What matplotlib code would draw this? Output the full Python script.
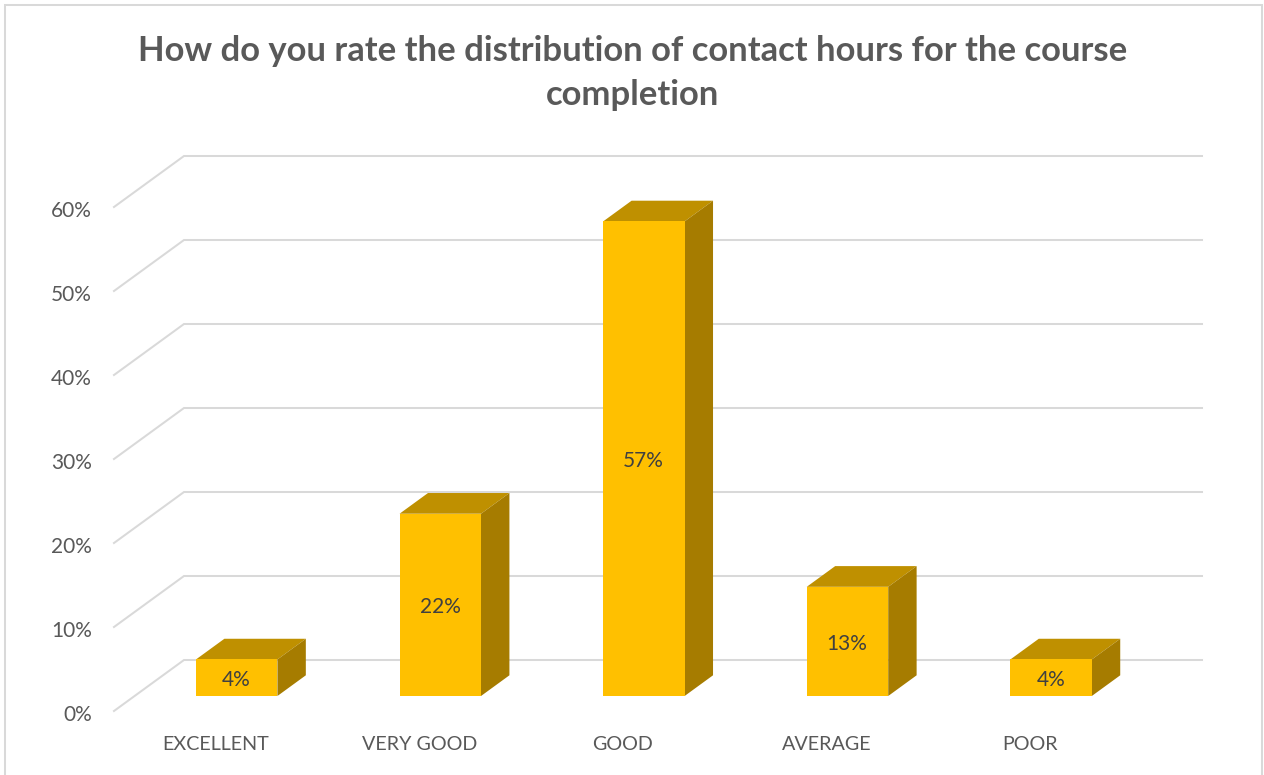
import matplotlib
matplotlib.use("Agg")
import matplotlib.pyplot as plt
from matplotlib.patches import Rectangle
from matplotlib.transforms import ScaledTranslation

categories = ["EXCELLENT", "VERY GOOD", "GOOD", "AVERAGE", "POOR"]
values = [4.35, 21.7, 56.5, 13.0, 4.35]
value_labels = ["4%", "22%", "57%", "13%", "4%"]
levels = [0, 10, 20, 30, 40, 50, 60]
level_labels = ["0%", "10%", "20%", "30%", "40%", "50%", "60%"]

plt.rcParams["font.family"] = ["Lato", "DejaVu Sans"]

W, H = 1264, 775
fig = plt.figure(figsize=(W / 100, H / 100), dpi=100, facecolor="white")
# axes box runs from the front floor corner to the top of the back wall
ax = fig.add_axes([114 / W, 1 - 711 / H, (1202 - 114) / W, (711 - 156) / H])
ax.patch.set_visible(False)

depth_x = 70 / 203.6
depth_y = 51 / 8.4
ax.set_xlim(0, 5 + depth_x)
ax.set_ylim(0, 60 + depth_y)
for s in ax.spines.values():
    s.set_visible(False)

grid = "#D9D9D9"
for v in levels:
    ax.plot([0, depth_x, 5 + depth_x], [v, v + depth_y, v + depth_y], color=grid, lw=1.45, clip_on=False, zorder=1, solid_joinstyle="miter")

# bar planes inside the depth, front and back
d0, d1 = 0.294, 0.70
half = 0.2
for i, v in enumerate(values):
    c = i + 0.5
    l = c - half + depth_x * d0 + 0.0015
    r = c + half + depth_x * d0 + 0.0015
    y0 = depth_y * d0
    ox = depth_x * (d1 - d0)
    oy = depth_y * (d1 - d0)
    ax.fill([l, r, r + ox, l + ox], [y0 + v, y0 + v, y0 + v + oy, y0 + v + oy], color="#BF9000", lw=0, zorder=3)
    ax.fill([r, r + ox, r + ox, r], [y0, y0 + oy, y0 + v + oy, y0 + v], color="#A67C00", lw=0, zorder=3)
    ax.fill([l, r, r, l], [y0, y0, y0 + v, y0 + v], color="#FFC000", lw=0, zorder=4)
    ax.annotate(value_labels[i], (c + depth_x * d0, y0 + v / 2), xytext=(0, -1.8), textcoords="offset points",
                ha="center", va="center", fontsize=15, color="#404040", zorder=5)

ax.set_yticks(levels)
ax.set_yticklabels(level_labels)
ax.set_xticks([i + 0.5 for i in range(5)])
ax.set_xticklabels(categories)
ax.tick_params(axis="y", length=0, pad=16, labelsize=15, labelcolor="#595959")
ax.tick_params(axis="x", length=0, pad=18.3, labelsize=14.2, labelcolor="#595959")

# tick labels sit about 2px lower than the default centring
shift = ScaledTranslation(0, -2 / 100, fig.dpi_scale_trans)
for t in ax.get_yticklabels():
    t.set_transform(t.get_transform() + shift)

fig.text(633 / W, 1 - 73 / H, "How do you rate the distribution of contact hours for the course\ncompletion",
         ha="center", va="center", fontsize=24.9, fontweight="bold", color="#595959", linespacing=1.45)

fig.add_artist(Rectangle((5 / W, -0.01), (1262 - 5) / W, 1.01 - 5 / H, transform=fig.transFigure, fill=False, edgecolor="#D9D9D9", lw=1.45))

fig.savefig("out.png", dpi=100, facecolor="white")
